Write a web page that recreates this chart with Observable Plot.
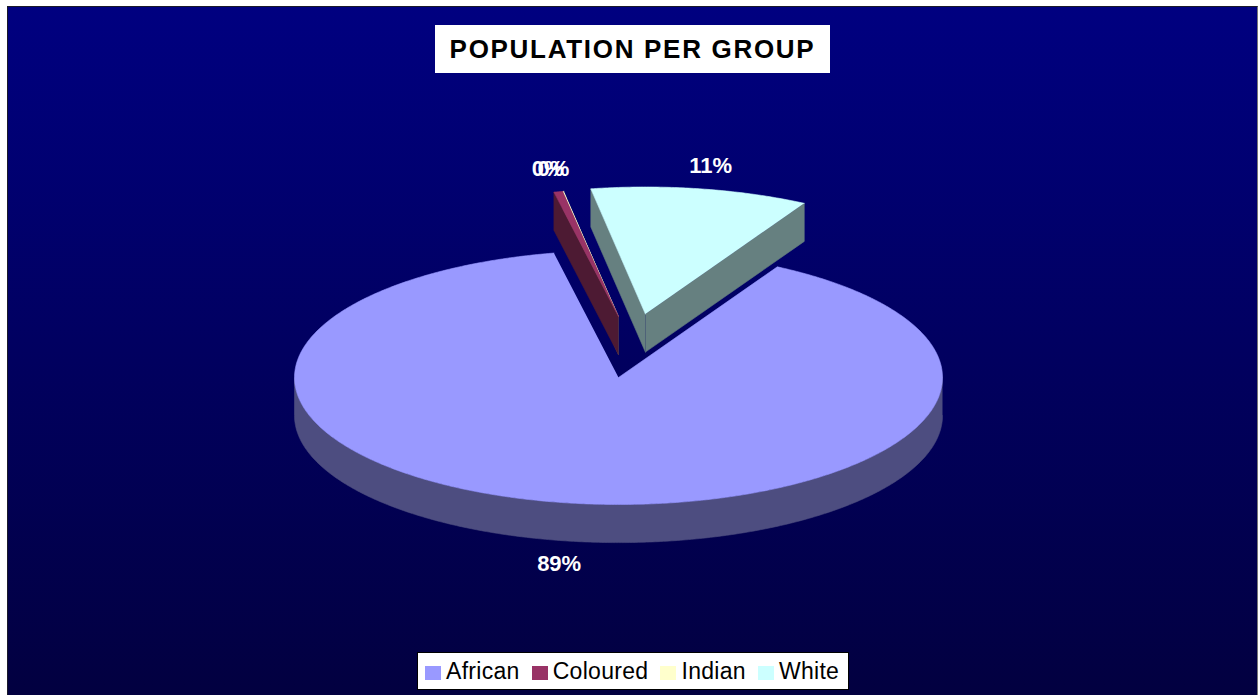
<!DOCTYPE html>
<html>
<head>
<meta charset="utf-8">
<script src="https://cdn.jsdelivr.net/npm/d3@7"></script>
<script src="https://cdn.jsdelivr.net/npm/@observablehq/plot@0.6"></script>
<style>
html, body { margin: 0; padding: 0; background: #fff; }
#wrap { position: relative; width: 1259px; height: 695px; overflow: hidden; font-family: "Liberation Sans", Arial, sans-serif; }
#bg { position: absolute; left: 7px; top: 6px; width: 1251px; height: 689px; box-sizing: border-box;
      background: linear-gradient(#000080, #020040); border-left: 1px solid #1a1a2a; border-top: 1px solid #1a1a2a; border-right: 1px solid #777; }
#plot { position: absolute; left: 0; top: 0; }
#title { position: absolute; left: 435px; top: 25px; width: 395px; height: 48px; background: #fff;
         display: flex; align-items: center; justify-content: center; font-weight: bold; font-size: 26px;
         letter-spacing: 1.7px; color: #000; white-space: nowrap; }
#legend { position: absolute; left: 417px; top: 652px; width: 432px; height: 38px; background: #fff; box-sizing: border-box;
          border: 1px solid #000; display: flex; align-items: center; padding-left: 7px; gap: 12px; font-size: 23px; color: #000; }
.item { display: flex; align-items: center; white-space: nowrap; letter-spacing: 0.3px; }
.sw { width: 16px; height: 14px; margin-right: 5px; margin-top: 3px; }
</style>
</head>
<body>
<div id="wrap">
  <div id="bg"></div>
  <div id="plot"></div>
  <div id="title"></div>
  <div id="legend"></div>
</div>
<script>
// ---- data ----
const categories = ["African", "Coloured", "Indian", "White"];
const shares = [88.65, 0.45, 0.05, 10.85];           // percent of population
const colors = ["#9999FF", "#993366", "#FFFFCC", "#CCFFFF"];
const titleText = "POPULATION PER GROUP";

// ---- 3D pie styling ----
const firstSliceAngle = 29.36;                          // degrees, clockwise from 12 o'clock
const explode = {African: [0, 0], Coloured: [0, 0.48], Indian: [0, 0.48], White: [0.083, 0.5]};
const depth = 0.3;                                      // wall height in y units
const labelRadius = 1.18;

const rad = Math.PI / 180;
const total = d3.sum(shares);
const rows = categories.map((c, i) => ({cat: c, value: shares[i], color: colors[i]}));
const arcs = d3.pie().sort(null).value(d => d.value)
  .startAngle(firstSliceAngle * rad).endAngle(firstSliceAngle * rad + 2 * Math.PI)(rows);

const darker = c => { const r = d3.rgb(c); return d3.rgb(r.r * 0.5, r.g * 0.5, r.b * 0.5).formatHex(); };

function arcPts(a0, a1, ox, oy, dz) {
  const n = Math.max(2, Math.ceil(Math.abs(a1 - a0) / (0.5 * rad)));
  return d3.range(n + 1).map(i => {
    const a = a0 + (a1 - a0) * i / n;
    return [ox + Math.sin(a), oy + Math.cos(a) - dz];
  });
}

const slices = arcs.map(a => {
  const [ox, oy] = explode[a.data.cat];
  const mid = (a.startAngle + a.endAngle) / 2;
  return {...a, ox, oy, mid, order: oy + 0.5 * Math.cos(mid)};
}).sort((p, q) => q.order - p.order);    // back to front

const pts = [];
let pid = 0;
function addPoly(points, fill) {
  const id = pid++;
  points.forEach(([x, y]) => pts.push({id, x, y, fill}));
}

slices.forEach(s => {
  const {ox, oy, startAngle: a0, endAngle: a1} = s;
  const side = darker(s.data.color);
  const apexT = [ox, oy], apexB = [ox, oy - depth];
  if (Math.sin(a0) < 0) {
    addPoly([apexT, [ox + Math.sin(a0), oy + Math.cos(a0)], [ox + Math.sin(a0), oy + Math.cos(a0) - depth], apexB], side);
  }
  if (Math.sin(a1) > 0) {
    addPoly([apexT, [ox + Math.sin(a1), oy + Math.cos(a1)], [ox + Math.sin(a1), oy + Math.cos(a1) - depth], apexB], side);
  }
  for (let k = 0; k < 3; k++) {
    const lo = Math.max(a0, Math.PI / 2 + 2 * Math.PI * k), hi = Math.min(a1, 1.5 * Math.PI + 2 * Math.PI * k);
    if (hi > lo) {
      addPoly([...arcPts(lo, hi, ox, oy, 0), ...arcPts(hi, lo, ox, oy, depth)], side);
    }
  }
  addPoly([apexT, ...arcPts(a0, a1, ox, oy, 0)], s.data.color);
});

const fmt = d3.format(".0%");
const labels = slices.map(s => ({
  x: s.ox + labelRadius * Math.sin(s.mid),
  y: s.oy + labelRadius * Math.cos(s.mid) - (Math.cos(s.mid) < 0 ? depth : 0),
  text: fmt(s.value / total)
}));

const chart = Plot.plot({
  width: 1259, height: 695, margin: 0,
  x: {domain: [-1, 1], range: [294, 942], axis: null},
  y: {domain: [-1, 1], range: [504, 250], axis: null},
  color: {type: "identity"},
  style: {background: "transparent", overflow: "visible"},
  marks: [
    Plot.line(pts, {x: "x", y: "y", z: "id", fill: "fill", stroke: "fill", strokeWidth: 0.6, curve: "linear"}),
    Plot.text(labels, {x: "x", y: "y", text: "text", fill: "white", fontSize: 22, fontWeight: "bold",
      fontFamily: "Liberation Sans, Arial, sans-serif", textAnchor: "middle", lineAnchor: "middle"})
  ]
});
document.getElementById("plot").appendChild(chart);

document.getElementById("title").textContent = titleText;
const legend = document.getElementById("legend");
categories.forEach((c, i) => {
  const it = document.createElement("div");
  it.className = "item";
  const sw = document.createElement("span");
  sw.className = "sw";
  sw.style.background = colors[i];
  it.appendChild(sw);
  it.appendChild(document.createTextNode(c));
  legend.appendChild(it);
});
</script>
</body>
</html>
